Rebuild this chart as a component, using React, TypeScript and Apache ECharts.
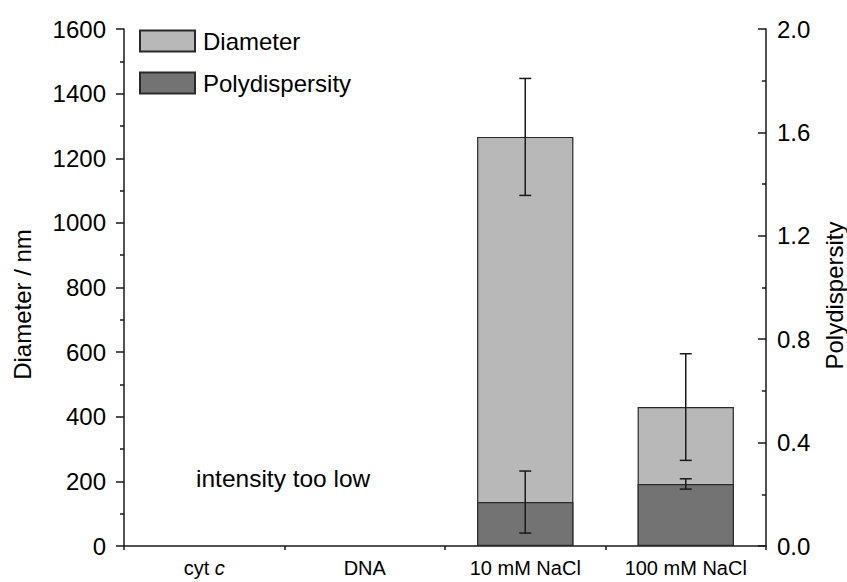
import React, { useEffect, useRef } from "react";
import * as echarts from "echarts";

const categories = ["cyt c", "DNA", "10 mM NaCl", "100 mM NaCl"];
const diameter = [null, null, 1266, 430];
const diameterErr = [null, null, 181, 165];
const polydispersity = [null, null, 0.17, 0.24];
const polydispersityErr = [null, null, 0.12, 0.02];
const leftTicks = { min: 0, max: 1600, interval: 200 };
const rightTicks = { min: 0, max: 2.0, interval: 0.4 };
const annotation = "intensity too low";

const FONT = "'Liberation Sans', Arial, sans-serif";

function errData(vals: (number | null)[], errs: (number | null)[]) {
  const out: any[] = [];
  vals.forEach((v, i) => {
    const e = errs[i];
    if (v != null && e != null) out.push([i, v - e, v + e]);
  });
  return out;
}

function renderErr(params: any, api: any) {
  const x = api.value(0);
  const pLo = api.coord([x, api.value(1)]);
  const pHi = api.coord([x, api.value(2)]);
  const half = 6;
  const style = { stroke: "#1a1a1a", lineWidth: 1.5 };
  return {
    type: "group",
    children: [
      { type: "line", shape: { x1: pHi[0], y1: pHi[1], x2: pLo[0], y2: pLo[1] }, style },
      { type: "line", shape: { x1: pHi[0] - half, y1: pHi[1], x2: pHi[0] + half, y2: pHi[1] }, style },
      { type: "line", shape: { x1: pLo[0] - half, y1: pLo[1], x2: pLo[0] + half, y2: pLo[1] }, style },
    ],
  };
}

export default function App() {
  const ref = useRef<HTMLDivElement>(null);
  useEffect(() => {
    if (!ref.current) return;
    const chart = echarts.init(ref.current, null, { renderer: "svg" });
    const axisLineStyle = { color: "#1a1a1a", width: 1.5 };
    chart.setOption({
      animation: false,
      backgroundColor: "#ffffff",
      textStyle: { fontFamily: FONT },
      grid: {
        left: 124,
        right: 81,
        top: 29,
        bottom: 36,
        containLabel: false,
        outerBoundsMode: "none",
      },
      legend: {
        orient: "vertical",
        left: 134,
        top: 24,
        itemWidth: 55,
        itemHeight: 21,
        itemGap: 18,
        icon: "rect",
        data: ["Diameter", "Polydispersity"],
        textStyle: {
          fontSize: 24,
          lineHeight: 21,
          color: "#000",
          fontFamily: FONT,
          padding: [0, 0, 0, 3],
        },
      },
      graphic: [
        {
          type: "text",
          left: 196,
          top: 466,
          style: { text: annotation, fontSize: 24.5, fill: "#000", fontFamily: FONT },
        },
      ],
      xAxis: [
        {
          type: "category",
          data: categories,
          axisLine: { lineStyle: axisLineStyle },
          axisTick: { alignWithLabel: true, length: 8, lineStyle: axisLineStyle },
          axisLabel: {
            interval: 0,
            margin: 12,
            color: "#000",
            fontSize: 20,
            fontFamily: FONT,
            formatter: (v: string) => (v === "cyt c" ? "{n|cyt }{i|c}" : v),
            rich: {
              n: { fontSize: 20, color: "#000", fontFamily: FONT },
              i: { fontSize: 20, color: "#000", fontStyle: "italic", fontFamily: FONT },
            },
          },
          splitLine: { show: false },
        },
        {
          type: "category",
          data: categories,
          position: "bottom",
          axisLine: { show: false },
          axisTick: { show: true, length: 4, interval: 0, lineStyle: axisLineStyle },
          axisLabel: { show: false },
          splitLine: { show: false },
        },
      ],
      yAxis: [
        {
          type: "value",
          min: leftTicks.min,
          max: leftTicks.max,
          interval: leftTicks.interval,
          name: "Diameter / nm",
          nameLocation: "middle",
          nameGap: 90,
          nameTextStyle: {
            fontSize: 24,
            color: "#000",
            fontFamily: FONT,
            padding: [0, 34, 0, 0],
          },
          axisLine: { show: true, lineStyle: axisLineStyle },
          axisTick: { show: true, length: 8, lineStyle: axisLineStyle },
          minorTick: { show: true, splitNumber: 2, length: 4, lineStyle: axisLineStyle },
          axisLabel: {
            margin: 18,
            fontSize: 24,
            color: "#000",
            fontFamily: FONT,
            formatter: (v: number) => String(v),
          },
          splitLine: { show: false },
        },
        {
          type: "value",
          min: rightTicks.min,
          max: rightTicks.max,
          interval: rightTicks.interval,
          position: "right",
          name: "Polydispersity",
          nameLocation: "middle",
          nameGap: 56,
          nameTextStyle: {
            fontSize: 24,
            color: "#000",
            fontFamily: FONT,
            padding: [0, 16, 0, 0],
          },
          axisLine: { show: true, lineStyle: axisLineStyle },
          axisTick: { show: true, inside: true, length: 8, lineStyle: axisLineStyle },
          minorTick: { show: true, splitNumber: 2, length: 4, lineStyle: axisLineStyle },
          axisLabel: {
            margin: 11,
            fontSize: 24,
            color: "#000",
            fontFamily: FONT,
            formatter: (v: number) => v.toFixed(1),
          },
          splitLine: { show: false },
        },
      ],
      series: [
        {
          name: "Diameter",
          type: "bar",
          xAxisIndex: 0,
          yAxisIndex: 0,
          data: diameter,
          barWidth: "60%",
          barGap: "-100%",
          itemStyle: { color: "#b8b8b8", borderColor: "#2a2a2a", borderWidth: 1.2 },
          z: 2,
        },
        {
          name: "Polydispersity",
          type: "bar",
          xAxisIndex: 0,
          yAxisIndex: 1,
          data: polydispersity,
          barWidth: "60%",
          barGap: "-100%",
          itemStyle: { color: "#737373", borderColor: "#2a2a2a", borderWidth: 1.2 },
          z: 3,
        },
        {
          type: "custom",
          name: "DiameterErr",
          xAxisIndex: 0,
          yAxisIndex: 0,
          data: errData(diameter, diameterErr),
          encode: { x: 0, y: [1, 2] },
          renderItem: renderErr,
          z: 5,
        },
        {
          type: "custom",
          name: "PolydispersityErr",
          xAxisIndex: 0,
          yAxisIndex: 1,
          data: errData(polydispersity, polydispersityErr),
          encode: { x: 0, y: [1, 2] },
          renderItem: renderErr,
          z: 5,
        },
      ],
    });
    return () => chart.dispose();
  }, []);
  return (
    <div
      ref={ref}
      style={{ position: "fixed", left: 0, top: 0, width: 847, height: 582, background: "#fff" }}
    />
  );
}
